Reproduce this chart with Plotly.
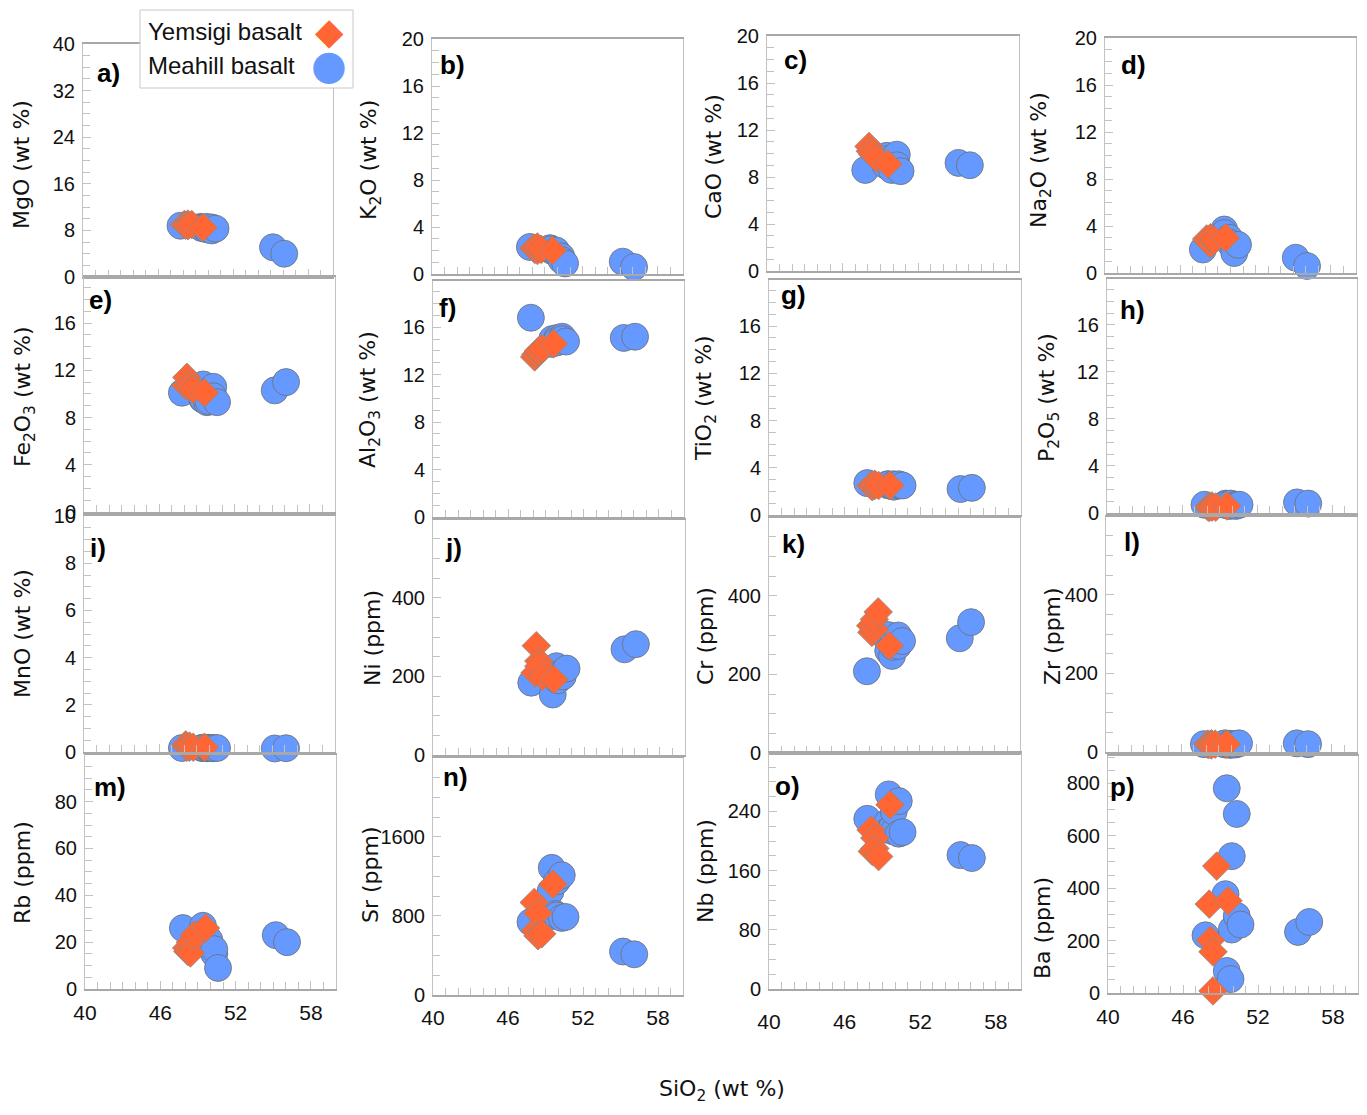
import plotly.graph_objects as go

# page body keeps an 8px margin, so the figure is drawn 8px in from the corner
PAD = 8
W, H = 1367 - 2 * PAD, 1115 - 2 * PAD

# SiO2 (wt %) of each sample
sio2_yemsigi = [48.1, 48.2, 48.4, 48.4, 48.7, 49.6]
sio2_meahill = [47.8, 49.4, 49.5, 49.5, 49.8, 49.9, 49.9, 50.3, 50.3, 50.6, 55.2, 56.1]

# major oxides (wt %)
mgo_yemsigi = [9.0, 8.9, 9.1, 8.8, 9.0, 8.5]
mgo_meahill = [8.8, 8.6, 8.5, 8.4, 8.3, 8.6, 8.2, 8.5, 8.0, 8.3, 5.1, 4.0]
k2o_yemsigi = [2.2, 2.1, 2.0, 2.3, 2.1, 2.0]
k2o_meahill = [2.3, 2.2, 2.0, 2.1, 1.9, 1.8, 2.0, 1.5, 1.2, 0.9, 1.05, 0.6]
cao_yemsigi = [10.6, 10.2, 9.9, 10.0, 9.6, 9.1]
cao_meahill = [8.6, 9.0, 9.8, 9.5, 9.2, 8.6, 9.4, 9.9, 9.0, 8.5, 9.2, 9.0]
na2o_yemsigi = [2.9, 2.7, 2.5, 3.0, 2.8, 3.0]
na2o_meahill = [2.0, 3.2, 3.7, 3.4, 2.8, 3.0, 2.6, 2.2, 1.7, 2.4, 1.3, 0.6]
fe2o3_yemsigi = [10.7, 11.4, 10.9, 10.6, 10.4, 10.1]
fe2o3_meahill = [10.1, 9.6, 10.8, 9.5, 9.3, 10.0, 9.4, 10.6, 9.8, 9.3, 10.3, 11.0]
al2o3_yemsigi = [13.5, 13.7, 13.9, 14.0, 14.2, 14.6]
al2o3_meahill = [16.8, 14.6, 14.8, 15.0, 14.7, 15.1, 14.9, 15.2, 15.0, 14.8, 15.1, 15.2]
tio2_yemsigi = [2.5, 2.4, 2.5, 2.6, 2.5, 2.5]
tio2_meahill = [2.7, 2.6, 2.5, 2.6, 2.5, 2.6, 2.4, 2.5, 2.6, 2.5, 2.2, 2.3]
p2o5_yemsigi = [0.5, 0.5, 0.6, 0.5, 0.5, 0.6]
p2o5_meahill = [0.7, 0.7, 0.8, 0.7, 0.6, 0.7, 0.8, 0.7, 0.6, 0.7, 0.9, 0.8]
mno_yemsigi = [0.3, 0.2, 0.2, 0.25, 0.2, 0.2]
mno_meahill = [0.17, 0.17, 0.18, 0.17, 0.16, 0.17, 0.18, 0.17, 0.16, 0.17, 0.15, 0.16]

# trace elements (ppm)
ni_yemsigi = [209, 278, 239, 226, 200, 192]
ni_meahill = [184, 200, 154, 215, 226, 190, 205, 210, 200, 220, 269, 282]
cr_yemsigi = [324, 307, 315, 340, 359, 273]
cr_meahill = [208, 290, 300, 260, 247, 280, 270, 299, 273, 285, 292, 333]
zr_yemsigi = [20, 19, 21, 18, 20, 20]
zr_meahill = [20, 21, 19, 22, 20, 18, 21, 20, 19, 22, 22, 20]
rb_yemsigi = [17.5, 16, 20, 15.4, 23, 26]
rb_meahill = [26, 27, 22, 24, 20, 18, 21, 15, 17, 9, 23, 20]
sr_yemsigi = [937, 652, 827, 600, 620, 1122]
sr_meahill = [738, 1047, 1287, 800, 820, 806, 1150, 1212, 780, 790, 440, 412]
nb_yemsigi = [215, 186, 204, 190, 179, 249]
nb_meahill = [230, 225, 263, 215, 220, 213, 240, 254, 210, 212, 181, 177]
ba_yemsigi = [339, 201, 157, 8, 484, 352]
ba_meahill = [220, 377, 781, 84, 53, 522, 242, 683, 294, 261, 233, 271]

x_ticks = [40, 46, 52, 58]

ORANGE = "#FF6633"
BLUE = "#6699FF"
FRAME = "#c2c2c2"
XLINE = "#a8a8a8"


def px(x):
    return (x - PAD) / W


def py(y):
    return 1 - (y - PAD) / H


# (label, y title, yemsigi, meahill, y max, y tick step,
#  frame box in screen px (x0, x1, top, bottom), title pos, label pos)
panels = [
    ("a)", "MgO (wt %)", mgo_yemsigi, mgo_meahill, 40, 8, (83, 333, 44, 277), (22, 165), (108, 73)),
    ("b)", "K<sub>2</sub>O (wt %)", k2o_yemsigi, k2o_meahill, 20, 4, (432, 683, 39, 274), (370, 160), (452, 65)),
    ("c)", "CaO (wt %)", cao_yemsigi, cao_meahill, 20, 4, (767, 1019, 36, 271), (714, 157), (795, 60)),
    ("d)", "Na<sub>2</sub>O (wt %)", na2o_yemsigi, na2o_meahill, 20, 4, (1105, 1356, 38, 273), (1040, 160), (1133, 65)),
    ("e)", "Fe<sub>2</sub>O<sub>3</sub> (wt %)", fe2o3_yemsigi, fe2o3_meahill, 19.9, 4, (84, 335, 277, 512), (25, 397), (100, 300)),
    ("f)", "Al<sub>2</sub>O<sub>3</sub> (wt %)", al2o3_yemsigi, al2o3_meahill, 19.9, 4, (433, 684, 281, 517), (370, 400), (447, 308)),
    ("g)", "TiO<sub>2</sub> (wt %)", tio2_yemsigi, tio2_meahill, 19.9, 4, (769, 1021, 280, 515), (705, 398), (793, 295)),
    ("h)", "P<sub>2</sub>O<sub>5</sub> (wt %)", p2o5_yemsigi, p2o5_meahill, 19.9, 4, (1107, 1357, 279, 513), (1048, 398), (1132, 310)),
    ("i)", "MnO (wt %)", mno_yemsigi, mno_meahill, 10, 2, (84, 335, 516, 752), (22, 634), (98, 548)),
    ("j)", "Ni (ppm)", ni_yemsigi, ni_meahill, 598, 200, (433, 685, 520, 755), (372, 638), (453, 548)),
    ("k)", "Cr (ppm)", cr_yemsigi, cr_meahill, 598, 200, (769, 1020, 518, 753), (705, 636), (793, 544)),
    ("l)", "Zr (ppm)", zr_yemsigi, zr_meahill, 598, 200, (1106, 1357, 517, 752), (1052, 636), (1132, 542)),
    ("m)", "Rb (ppm)", rb_yemsigi, rb_meahill, 99.9, 20, (85, 336, 755, 989), (22, 873), (110, 787)),
    ("n)", "Sr (ppm)", sr_yemsigi, sr_meahill, 2399, 800, (433, 683, 758, 995), (370, 875), (455, 777)),
    ("o)", "Nb (ppm)", nb_yemsigi, nb_meahill, 319, 80, (769, 1021, 753, 989), (705, 871), (788, 786)),
    ("p)", "Ba (ppm)", ba_yemsigi, ba_meahill, 904, 200, (1108, 1358, 756, 993), (1042, 928), (1122, 787)),
]

# distance of the SiO2 tick labels under the bottom row (panel o sits lower)
x_label_gap = {13: 4, 14: 3, 15: 13, 16: 4}

fig = go.Figure()
annotations = []

for i, (lab, ytitle, yem, mea, ymax, step, box, tpos, lpos) in enumerate(panels):
    n = i + 1
    xa = "x" if n == 1 else f"x{n}"
    ya = "y" if n == 1 else f"y{n}"
    x0, x1, top, bot = box

    fig.add_trace(go.Scatter(
        x=sio2_meahill, y=mea, mode="markers", xaxis=xa, yaxis=ya,
        marker=dict(symbol="circle", size=27, color=BLUE, line=dict(color="#6f6f6f", width=0.8)),
        cliponaxis=False, showlegend=False, name="Meahill basalt"))
    fig.add_trace(go.Scatter(
        x=sio2_yemsigi, y=yem, mode="markers", xaxis=xa, yaxis=ya,
        marker=dict(symbol="diamond", size=22, color=ORANGE, line=dict(color="#8a8a8a", width=0.8)),
        cliponaxis=False, showlegend=False, name="Yemsigi basalt"))

    bottom_row = n > 12
    fig.layout[f"xaxis{'' if n == 1 else n}"] = dict(
        domain=[px(x0), min(px(x1), 1)], anchor=ya, range=[40, 60],
        tickvals=x_ticks, showticklabels=bottom_row,
        ticks="inside", ticklen=8, tickcolor=FRAME,
        minor=dict(dtick=1, tick0=40, ticks="inside", ticklen=7, tickcolor=FRAME),
        showline=True, mirror=True, linecolor=XLINE, linewidth=1.6,
        showgrid=False, zeroline=False,
        tickfont=dict(family="Liberation Sans", size=21, color="#111"),
        ticklabelstandoff=x_label_gap.get(n, 6),
    )
    fig.layout[f"yaxis{'' if n == 1 else n}"] = dict(
        domain=[py(bot), py(top)], anchor=xa, range=[0, ymax],
        dtick=step, tick0=0,
        ticks="inside", ticklen=8, tickcolor=FRAME,
        minor=dict(dtick=step / 4, ticks="inside", ticklen=7, tickcolor=FRAME),
        showline=True, mirror=True, linecolor=FRAME, linewidth=1,
        showgrid=False, zeroline=False,
        tickfont=dict(family="Liberation Sans", size=20, color="#111"),
        ticklabelstandoff=3,
    )
    annotations.append(dict(
        text=ytitle, textangle=-90, xref="paper", yref="paper",
        x=px(tpos[0]), y=py(tpos[1]), xanchor="center", yanchor="middle",
        showarrow=False, font=dict(family="DejaVu Sans", size=22, color="#111")))
    annotations.append(dict(
        text=f"<b>{lab}</b>", xref="paper", yref="paper",
        x=px(lpos[0]), y=py(lpos[1]), xanchor="center", yanchor="middle",
        showarrow=False, font=dict(family="Liberation Sans", size=26, color="#000")))

# shared x title
annotations.append(dict(
    text="SiO<sub>2</sub> (wt %)", xref="paper", yref="paper",
    x=px(722), y=py(1090), xanchor="center", yanchor="middle",
    showarrow=False, font=dict(family="DejaVu Sans", size=22, color="#111")))

# legend drawn by hand so the symbols sit right of the text
legend_rows = [("Yemsigi basalt", "\u25c6", ORANGE, 32, 37), ("Meahill basalt", "\u25cf", BLUE, 65, 41)]
for text, sym, col, ly, fs in legend_rows:
    annotations.append(dict(
        text=text, xref="paper", yref="paper", x=px(146), y=py(ly),
        xanchor="left", yanchor="middle", showarrow=False,
        font=dict(family="Liberation Sans", size=24, color="#111")))
    annotations.append(dict(
        text=sym, xref="paper", yref="paper", x=px(329), y=py(ly),
        xanchor="center", yanchor="middle", showarrow=False,
        font=dict(family="DejaVu Sans", size=fs, color=col)))

fig.update_layout(
    width=W, height=H,
    margin=dict(l=0, r=0, t=0, b=0, autoexpand=False),
    paper_bgcolor="white", plot_bgcolor="white",
    annotations=annotations,
    shapes=[dict(type="rect", xref="paper", yref="paper",
                 x0=px(140), x1=px(353), y0=py(88), y1=py(10),
                 line=dict(color="#c8c8c8", width=1), fillcolor="white", layer="above")],
)

fig.write_html("out.html")
